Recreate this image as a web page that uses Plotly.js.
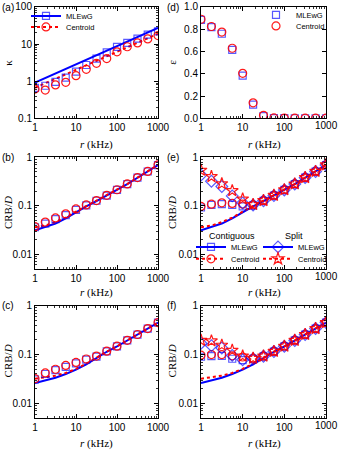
<!DOCTYPE html>
<html>
<head>
<meta charset="utf-8">
<script src="https://cdn.plot.ly/plotly-3.0.1.min.js"></script>
<style>html,body{margin:0;padding:0;background:#fff;}#chart{width:338px;height:450px;}</style>
</head>
<body>
<div id="chart"></div>
<script>
// ---- data ----
const r = [1, 1.78, 3.16, 5.62, 10, 17.8, 31.6, 56.2, 100, 178, 316, 562, 1000];
const xTickVals = [1, 10, 100, 1000];
const xTickText = ['1', '10', '100', '1000'];
const xTickTextRight = ['1', '10', '100', ''];   // last label of the right column drawn as annotation
const kTickVals = [0.1, 1, 10, 100];
const kTickText = ['0.1', '1', '10', '100'];
const crbTickVals = [0.01, 0.1, 1];
const crbTickText = ['0.01', '0.1', '1'];
const seriesNames = ['MLEwG', 'Centroid'];
const groupNames = ['Contiguous', 'Split'];

// (a) kappa
const kappaMLEwG    = [0.67, 0.76, 0.97, 1.26, 1.82, 2.75, 4.1, 6.0, 8.4, 10.8, 14.0, 18.0, 22.0];
const kappaCentroid = [0.62, 0.58, 0.80, 0.94, 1.42, 2.1, 3.05, 4.1, 6.2, 8.5, 10.8, 13.8, 17.0];
const kappaLineR        = [1, 1000];
const kappaLineMLEwG    = [0.92, 27.5];
const kappaLineCentroid = [0.67, 19.0];

// (d) epsilon
const epsMLEwG    = [0.885, 0.82, 0.76, 0.615, 0.385, 0.125, 0.022, 0.004, 0.003, 0.002, 0.002, 0.002, 0.002];
const epsCentroid = [0.89, 0.825, 0.775, 0.63, 0.405, 0.14, 0.028, 0.005, 0.004, 0.003, 0.003, 0.003, 0.003];

// (b) CRB/D
const crbB_MLEwG    = [0.036, 0.043, 0.053, 0.064, 0.082, 0.102, 0.127, 0.162, 0.212, 0.28, 0.38, 0.51, 0.69];
const crbB_Centroid = [0.037, 0.046, 0.056, 0.068, 0.086, 0.104, 0.128, 0.164, 0.214, 0.282, 0.382, 0.512, 0.70];
const crbB_LineMLEwG    = [0.031, 0.036, 0.043, 0.055, 0.074, 0.097, 0.124, 0.161, 0.211, 0.279, 0.379, 0.509, 0.69];
const crbB_LineCentroid = [0.036, 0.039, 0.046, 0.057, 0.076, 0.099, 0.126, 0.163, 0.213, 0.281, 0.381, 0.511, 0.70];

// (c) CRB/D
const crbC_MLEwG    = [0.031, 0.040, 0.048, 0.056, 0.066, 0.079, 0.091, 0.116, 0.147, 0.194, 0.256, 0.34, 0.45];
const crbC_Centroid = [0.032, 0.042, 0.050, 0.060, 0.069, 0.081, 0.093, 0.117, 0.148, 0.195, 0.257, 0.34, 0.45];
const crbC_LineMLEwG    = [0.026, 0.0295, 0.0335, 0.040, 0.049, 0.063, 0.086, 0.114, 0.146, 0.193, 0.255, 0.34, 0.45];
const crbC_LineCentroid = [0.032, 0.034, 0.037, 0.042, 0.051, 0.065, 0.087, 0.115, 0.147, 0.194, 0.256, 0.34, 0.45];

// (e) CRB/D contiguous & split
const crbE_ContMLEwG     = [0.092, 0.104, 0.108, 0.104, 0.097, 0.102, 0.127, 0.162, 0.212, 0.28, 0.38, 0.51, 0.69];
const crbE_ContCentroid  = [0.097, 0.108, 0.115, 0.112, 0.108, 0.104, 0.128, 0.164, 0.214, 0.282, 0.382, 0.512, 0.70];
const crbE_SplitMLEwG    = [0.43, 0.32, 0.25, 0.16, 0.115, 0.104, 0.127, 0.162, 0.212, 0.28, 0.38, 0.51, 0.69];
const crbE_SplitCentroid = [0.54, 0.40, 0.285, 0.205, 0.138, 0.106, 0.128, 0.164, 0.214, 0.282, 0.382, 0.512, 0.70];

// (f) CRB/D contiguous & split
const crbF_ContMLEwG     = [0.090, 0.093, 0.094, 0.082, 0.077, 0.082, 0.092, 0.115, 0.147, 0.194, 0.256, 0.34, 0.45];
const crbF_ContCentroid  = [0.097, 0.100, 0.100, 0.094, 0.089, 0.084, 0.093, 0.116, 0.148, 0.195, 0.257, 0.34, 0.45];
const crbF_SplitMLEwG    = [0.17, 0.152, 0.136, 0.096, 0.078, 0.082, 0.092, 0.115, 0.147, 0.194, 0.256, 0.34, 0.45];
const crbF_SplitCentroid = [0.195, 0.19, 0.155, 0.122, 0.093, 0.084, 0.093, 0.116, 0.148, 0.195, 0.257, 0.34, 0.45];

// ---- styles ----
const BLUE = 'rgb(0,0,255)';
const BLUE_M = 'rgba(0,0,255,0.65)';
const RED = 'rgb(255,0,0)';
const RED_M = 'rgba(255,0,0,0.9)';
const SANS = 'Liberation Sans, Arial, sans-serif';
const SERIF = 'Liberation Serif, DejaVu Serif, serif';

const mk = {
  sq: {symbol: 'square-open',  size: 7, color: BLUE_M, line: {width: 1.2}},
  ci: {symbol: 'circle-open',  size: 8, color: RED_M,  line: {width: 1.2}},
  di: {symbol: 'diamond-open', size: 9, color: BLUE_M, line: {width: 1.2}},
  st: {symbol: 'star-open',    size: 9, color: RED_M,  line: {width: 1.2}}
};
const lnBlue = {color: BLUE, width: 2};
const lnRed = {color: RED, width: 2, dash: 'dot'};

const traces = [];
function line(x, y, ax, ln) {
  traces.push({x: x, y: y, xaxis: 'x' + ax, yaxis: 'y' + ax, mode: 'lines', line: ln, showlegend: false, hoverinfo: 'skip'});
}
function pts(x, y, ax, m) {
  traces.push({x: x, y: y, xaxis: 'x' + ax, yaxis: 'y' + ax, mode: 'markers', marker: m, showlegend: false, hoverinfo: 'skip'});
}
function leg(name, ax, lg, ln, m, mode) {
  traces.push({x: [null], y: [null], xaxis: 'x' + ax, yaxis: 'y' + ax, mode: mode, name: name,
    line: ln, marker: m, legend: lg, showlegend: true});
}

// (a) axis 1
line(kappaLineR, kappaLineMLEwG, '', lnBlue);
line(kappaLineR, kappaLineCentroid, '', lnRed);
pts(r, kappaMLEwG, '', mk.sq);
pts(r, kappaCentroid, '', mk.ci);
leg(seriesNames[0], '', 'legend', lnBlue, mk.sq, 'lines+markers');
leg(seriesNames[1], '', 'legend2', lnRed, mk.ci, 'lines+markers');

// (d) axis 2
pts(r, epsMLEwG, '2', mk.sq);
pts(r, epsCentroid, '2', mk.ci);
leg(seriesNames[0], '2', 'legend3', undefined, mk.sq, 'markers');
leg(seriesNames[1], '2', 'legend4', undefined, mk.ci, 'markers');

// (b) axis 3
line(r, crbB_LineMLEwG, '3', lnBlue);
line(r, crbB_LineCentroid, '3', lnRed);
pts(r, crbB_MLEwG, '3', mk.sq);
pts(r, crbB_Centroid, '3', mk.ci);

// (e) axis 4
line(r, crbB_LineMLEwG, '4', lnBlue);
line(r, crbB_LineCentroid, '4', lnRed);
pts(r, crbE_ContMLEwG, '4', mk.sq);
pts(r, crbE_ContCentroid, '4', mk.ci);
pts(r, crbE_SplitMLEwG, '4', mk.di);
pts(r, crbE_SplitCentroid, '4', mk.st);
leg(seriesNames[0], '4', 'legend5', lnBlue, mk.sq, 'lines+markers');
leg(seriesNames[1], '4', 'legend6', lnRed, mk.ci, 'lines+markers');
leg(seriesNames[0], '4', 'legend7', lnBlue, mk.di, 'lines+markers');
leg(seriesNames[1], '4', 'legend8', lnRed, mk.st, 'lines+markers');

// (c) axis 5
line(r, crbC_LineMLEwG, '5', lnBlue);
line(r, crbC_LineCentroid, '5', lnRed);
pts(r, crbC_MLEwG, '5', mk.sq);
pts(r, crbC_Centroid, '5', mk.ci);

// (f) axis 6
line(r, crbC_LineMLEwG, '6', lnBlue);
line(r, crbC_LineCentroid, '6', lnRed);
pts(r, crbF_ContMLEwG, '6', mk.sq);
pts(r, crbF_ContCentroid, '6', mk.ci);
pts(r, crbF_SplitMLEwG, '6', mk.di);
pts(r, crbF_SplitCentroid, '6', mk.st);

// ---- layout ----
const W = 338, H = 450;
const colL = [35 / W, 158 / W];
const colR = [201 / W, 326 / W];
const row = (top, bot) => [1 - bot / H, 1 - top / H];
const rowA = row(5, 117), rowB = row(156, 268), rowC = row(305, 418);

const tickFont = {family: SANS, size: 10, color: '#000'};
const minorLog = {ticks: 'inside', ticklen: 2, tickwidth: 0.8, tickcolor: '#000', dtick: 'D1', showgrid: false};
const common = {ticks: 'inside', ticklen: 4, tickwidth: 1, tickcolor: '#000', mirror: 'allticks',
  showline: true, linecolor: '#000', linewidth: 1, showgrid: false, zeroline: false,
  tickfont: tickFont, fixedrange: true, ticklabeloverflow: 'allow'};
function xax(domain, anchor, tt) {
  return Object.assign({type: 'log', domain: domain, anchor: anchor, range: [0, 3], tickmode: 'array',
    tickvals: xTickVals, ticktext: tt, minor: minorLog}, common);
}
function ylog(domain, anchor, range, tv, tt) {
  return Object.assign({type: 'log', domain: domain, anchor: anchor, range: range, tickmode: 'array',
    tickvals: tv, ticktext: tt, minor: minorLog}, common);
}
const crbRange = [Math.log10(0.005), 0];

const annFont = {family: SANS, size: 10, color: '#000'};
const titleFont = {family: SERIF, size: 11, color: '#000'};
const headFont = {family: SANS, size: 9, color: '#000'};
function ann(text, xpx, ypx, font, extra) {
  return Object.assign({text: text, xref: 'paper', yref: 'paper', x: xpx / W, y: 1 - ypx / H,
    showarrow: false, font: font, xanchor: 'center', yanchor: 'middle'}, extra || {});
}
function lastTick(xref, ypx) {
  return {text: xTickText[3], xref: xref, yref: 'paper', x: Math.log10(xTickVals[3]), y: 1 - ypx / H,
    showarrow: false, font: tickFont, xanchor: 'center', yanchor: 'middle'};
}
const xTitle = '<i>r</i> (kHz)';
const crbTitle = 'CRB/<i>D</i>';
const annotations = [
  ann('(a)', 0, 6, annFont, {xanchor: 'left'}),
  ann('(d)', 165, 6, annFont, {xanchor: 'left'}),
  ann('(b)', 0, 156, annFont, {xanchor: 'left'}),
  ann('(e)', 165, 156, annFont, {xanchor: 'left'}),
  ann('(c)', 0, 305, annFont, {xanchor: 'left'}),
  ann('(f)', 165, 305, annFont, {xanchor: 'left'}),
  ann(xTitle, 96.5, 143, titleFont), ann(xTitle, 264, 143, titleFont),
  ann(xTitle, 96.5, 292, titleFont), ann(xTitle, 264, 292, titleFont),
  ann(xTitle, 96.5, 443, titleFont), ann(xTitle, 264, 443, titleFont),
  ann('κ', 8, 61, titleFont, {textangle: -90}),
  ann('ε', 172, 61, titleFont, {textangle: -90}),
  ann(crbTitle, 8, 212, titleFont, {textangle: -90}),
  ann(crbTitle, 172, 212, titleFont, {textangle: -90}),
  ann(crbTitle, 8, 361, titleFont, {textangle: -90}),
  ann(crbTitle, 172, 361, titleFont, {textangle: -90}),
  ann(groupNames[0], 207, 235, headFont, {xanchor: 'left'}),
  ann(groupNames[1], 283, 235, headFont, {xanchor: 'left'}),
  lastTick('x2', 124.5), lastTick('x4', 275.5), lastTick('x6', 425.5)
];

const legFont = {family: SANS, size: 7.5, color: '#000'};
function lg(xpx, ypx) {
  return {bgcolor: 'rgba(0,0,0,0)', borderwidth: 0, font: legFont, xanchor: 'left', yanchor: 'middle',
    x: xpx / W, y: 1 - ypx / H, itemwidth: 30, tracegroupgap: 0, itemclick: false, itemdoubleclick: false};
}

const layout = {
  width: W, height: H, margin: {l: 0, r: 0, t: 0, b: 0},
  paper_bgcolor: '#fff', plot_bgcolor: '#fff', showlegend: true,
  xaxis: xax(colL, 'y', xTickText), yaxis: ylog(rowA, 'x', [-1, 2], kTickVals, kTickText),
  xaxis2: xax(colR, 'y2', xTickTextRight),
  yaxis2: Object.assign({domain: rowA, anchor: 'x2', range: [0, 1], dtick: 0.2, tick0: 0, tickformat: '.1f'}, common),
  xaxis3: xax(colL, 'y3', xTickText), yaxis3: ylog(rowB, 'x3', crbRange, crbTickVals, crbTickText),
  xaxis4: xax(colR, 'y4', xTickTextRight), yaxis4: ylog(rowB, 'x4', crbRange, crbTickVals, crbTickText),
  xaxis5: xax(colL, 'y5', xTickText), yaxis5: ylog(rowC, 'x5', crbRange, crbTickVals, crbTickText),
  xaxis6: xax(colR, 'y6', xTickTextRight), yaxis6: ylog(rowC, 'x6', crbRange, crbTickVals, crbTickText),
  legend: lg(26, 14),
  legend2: lg(26, 25),
  legend3: lg(256, 13),
  legend4: lg(256, 24),
  legend5: lg(191, 246),
  legend6: lg(191, 258),
  legend7: lg(258, 246),
  legend8: lg(258, 258),
  annotations: annotations
};

Plotly.newPlot('chart', traces, layout, {staticPlot: true, displayModeBar: false});
</script>
</body>
</html>
